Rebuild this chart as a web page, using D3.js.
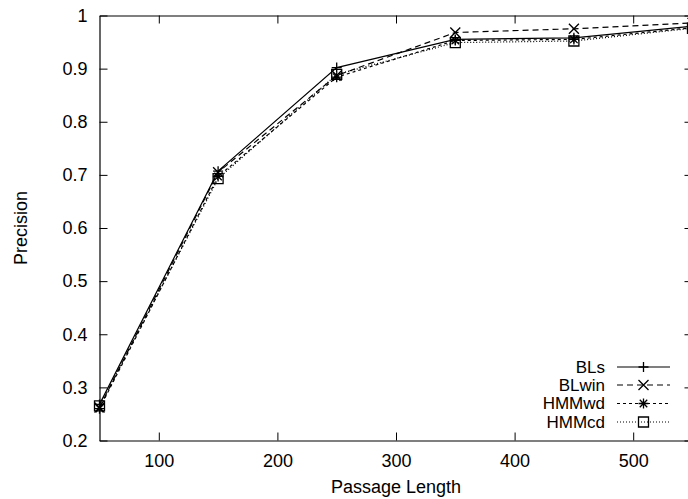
<!DOCTYPE html>
<html>
<head>
<meta charset="utf-8">
<script src="https://cdn.jsdelivr.net/npm/d3@7"></script>
<style>
  html, body { margin: 0; padding: 0; background: #fff; }
  svg { display: block; }
  text { font-family: "Liberation Sans", Arial, Helvetica, sans-serif; fill: #000; }
</style>
</head>
<body>
<svg id="chart" width="688" height="499"></svg>
<script>
// Passage lengths (x) and precision for each method
const passageLength = [50, 150, 250, 350, 450, 550];
const seriesNames = ["BLs", "BLwin", "HMMwd", "HMMcd"];
const blsValues   = [0.268, 0.707, 0.902, 0.955, 0.958, 0.980];
const blwinValues = [0.262, 0.705, 0.887, 0.968, 0.975, 0.986];
const hmmwdValues = [0.260, 0.697, 0.884, 0.953, 0.955, 0.977];
const hmmcdValues = [0.265, 0.693, 0.889, 0.949, 0.952, 0.976];
const xTickValues = [100, 200, 300, 400, 500];
const yTickValues = [0.2, 0.3, 0.4, 0.5, 0.6, 0.7, 0.8, 0.9, 1];

const series = [
  { name: seriesNames[0], values: blsValues,   dash: null,    marker: "plus" },
  { name: seriesNames[1], values: blwinValues, dash: "6,4",   marker: "cross" },
  { name: seriesNames[2], values: hmmwdValues, dash: "3,3",   marker: "star" },
  { name: seriesNames[3], values: hmmcdValues, dash: "1,2",   marker: "square" }
];

const svg = d3.select("#chart");
const plotLeft = 99.5, plotRight = 692.5, plotTop = 15.5, plotBottom = 440.5;

const x = d3.scaleLinear().domain([50, 550]).range([plotLeft, plotRight]);
const y = d3.scaleLinear().domain([0.2, 1]).range([plotBottom, plotTop]);

const tickLen = 8;
const fs = 18;

// Axes: tick marks point inward on all four sides
const axisBottom = d3.axisBottom(x).tickValues(xTickValues).tickSizeInner(-tickLen).tickSizeOuter(0).tickPadding(13.5).tickFormat(d3.format("d"));
const axisTop = d3.axisTop(x).tickValues(xTickValues).tickSizeInner(-tickLen).tickSizeOuter(0).tickFormat("");
const axisLeft = d3.axisLeft(y).tickValues(yTickValues).tickSizeInner(-tickLen).tickSizeOuter(0).tickPadding(12).tickFormat(d => d === 1 ? "1" : d3.format(".1f")(d));
const axisRight = d3.axisRight(y).tickValues(yTickValues).tickSizeInner(-tickLen).tickSizeOuter(0).tickFormat("");

function styleAxis(g) {
  g.select(".domain").attr("stroke", "#000").attr("stroke-width", 1.2);
  g.selectAll(".tick line").attr("stroke", "#000").attr("stroke-width", 1);
  g.selectAll(".tick text").attr("font-size", fs).attr("font-family", "Liberation Sans, Arial, sans-serif").attr("fill", "#000");
}

svg.append("g").attr("transform", `translate(0,${plotBottom})`).call(axisBottom).call(styleAxis);
svg.append("g").attr("transform", `translate(0,${plotTop})`).call(axisTop).call(styleAxis);
svg.append("g").attr("transform", `translate(${plotLeft},0)`).call(axisLeft).call(styleAxis);
svg.append("g").attr("transform", `translate(${plotRight},0)`).call(axisRight).call(styleAxis);

// Axis titles
svg.append("text")
  .attr("x", (plotLeft + plotRight) / 2).attr("y", 493)
  .attr("text-anchor", "middle").attr("font-size", fs)
  .text("Passage Length");
svg.append("text")
  .attr("transform", `translate(27,${(plotTop + plotBottom) / 2}) rotate(-90)`)
  .attr("text-anchor", "middle").attr("font-size", fs)
  .text("Precision");

// Marker shapes
function drawMarker(g, cx, cy, type) {
  const s = 5;
  const p = d3.path();
  if (type === "plus" || type === "star") {
    p.moveTo(cx - s, cy); p.lineTo(cx + s, cy);
    p.moveTo(cx, cy - s); p.lineTo(cx, cy + s);
  }
  if (type === "cross" || type === "star") {
    const c = type === "star" ? s * 0.75 : s;
    p.moveTo(cx - c, cy - c); p.lineTo(cx + c, cy + c);
    p.moveTo(cx - c, cy + c); p.lineTo(cx + c, cy - c);
  }
  if (type === "square") {
    p.rect(cx - s, cy - s, 2 * s, 2 * s);
  }
  g.append("path").attr("d", p.toString())
    .attr("fill", "none").attr("stroke", "#000").attr("stroke-width", 1.3);
}

const line = d3.line().x((d, i) => x(passageLength[i])).y(d => y(d));

const plot = svg.append("g");
series.forEach(s => {
  plot.append("path")
    .attr("d", line(s.values))
    .attr("fill", "none").attr("stroke", "#000").attr("stroke-width", 1.2)
    .attr("stroke-dasharray", s.dash);
  const mg = plot.append("g");
  s.values.forEach((v, i) => drawMarker(mg, x(passageLength[i]), y(v), s.marker));
});

// Legend
const legendRows = [367, 385, 403.5, 422];
const lg = svg.append("g");
series.forEach((s, i) => {
  const ly = legendRows[i];
  lg.append("text")
    .attr("x", 605).attr("y", ly).attr("dy", "0.35em")
    .attr("text-anchor", "end").attr("font-size", 17)
    .text(s.name);
  lg.append("line")
    .attr("x1", 617).attr("x2", 670).attr("y1", ly).attr("y2", ly)
    .attr("stroke", "#000").attr("stroke-width", 1.2)
    .attr("stroke-dasharray", s.dash);
  drawMarker(lg, 643.5, ly, s.marker);
});
</script>
</body>
</html>
